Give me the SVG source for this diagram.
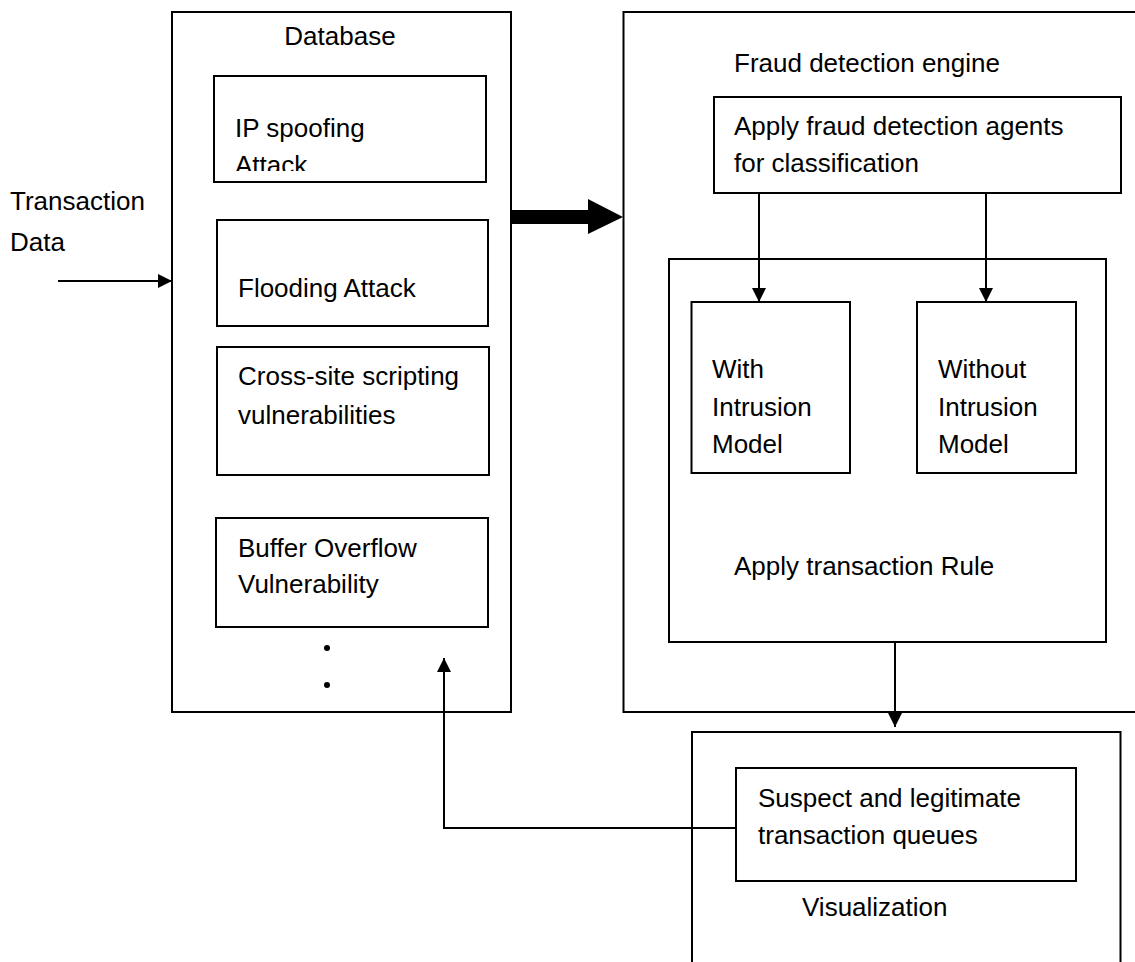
<svg xmlns="http://www.w3.org/2000/svg" width="1135" height="962" viewBox="0 0 1135 962">
<style>
  .box{fill:none;stroke:#000;stroke-width:2}
  .t{font-family:"Liberation Sans",Arial,sans-serif;font-size:26px;fill:#000}
  .ln{fill:none;stroke:#000;stroke-width:2}
</style>
<defs>
  <marker id="ah" markerUnits="userSpaceOnUse" markerWidth="14" markerHeight="14" refX="14" refY="7" orient="auto">
    <path d="M0,0 L14,7 L0,14 Z" fill="#000"/>
  </marker>
  <clipPath id="ipclip"><rect x="214" y="76" width="272" height="95"/></clipPath>
</defs>
<rect width="1135" height="962" fill="#fff"/>

<g id="transaction-data">
  <text class="t" x="10" y="210">Transaction</text>
  <text class="t" x="10" y="251">Data</text>
</g>

<g id="database">
  <rect class="box" x="172" y="12" width="339" height="700"/>
  <text class="t" x="340" y="45" text-anchor="middle">Database</text>
  <circle cx="327" cy="648" r="3" fill="#000"/>
  <circle cx="327" cy="685" r="3" fill="#000"/>
</g>
<g id="ip-spoofing">
  <rect class="box" x="214" y="76" width="272" height="106"/>
  <g clip-path="url(#ipclip)">
    <text class="t" x="235" y="137">IP spoofing</text>
    <text class="t" x="235" y="174">Attack</text>
  </g>
</g>
<g id="flooding">
  <rect class="box" x="217" y="220" width="271" height="106"/>
  <text class="t" x="238" y="297">Flooding Attack</text>
</g>
<g id="xss">
  <rect class="box" x="217" y="347" width="272" height="128"/>
  <text class="t" x="238" y="385">Cross-site scripting</text>
  <text class="t" x="238" y="424">vulnerabilities</text>
</g>
<g id="buffer">
  <rect class="box" x="216" y="518" width="272" height="109"/>
  <text class="t" x="238" y="557">Buffer Overflow</text>
  <text class="t" x="238" y="593">Vulnerability</text>
</g>

<g id="engine">
  <path class="box" d="M1136,12 H623.5 V712 H1136"/>
  <text class="t" x="734" y="72">Fraud detection engine</text>
</g>
<g id="agents">
  <rect class="box" x="714" y="97" width="407" height="96"/>
  <text class="t" x="734" y="135">Apply fraud detection agents</text>
  <text class="t" x="734" y="172">for classification</text>
</g>
<g id="rule">
  <rect class="box" x="669" y="259" width="437" height="383"/>
  <text class="t" x="734" y="575">Apply transaction Rule</text>
</g>
<g id="with-model">
  <rect class="box" x="691.5" y="302" width="158.5" height="171"/>
  <text class="t" x="712" y="378">With</text>
  <text class="t" x="712" y="416">Intrusion</text>
  <text class="t" x="712" y="453">Model</text>
</g>
<g id="without-model">
  <rect class="box" x="917" y="302" width="159" height="171"/>
  <text class="t" x="938" y="378">Without</text>
  <text class="t" x="938" y="416">Intrusion</text>
  <text class="t" x="938" y="453">Model</text>
</g>

<g id="visualization">
  <path class="box" d="M692,963 V732 H1120.5 V963"/>
  <text class="t" x="802" y="916">Visualization</text>
</g>
<g id="queues">
  <rect class="box" x="736" y="768" width="340" height="113"/>
  <text class="t" x="758" y="807">Suspect and legitimate</text>
  <text class="t" x="758" y="844">transaction queues</text>
</g>

<g id="connectors">
  <line class="ln" x1="58" y1="281" x2="172" y2="281" marker-end="url(#ah)"/>
  <path d="M511,210 H588 V199 L623,217 L588,234 V224 H511 Z" fill="#000"/>
  <line class="ln" x1="759" y1="193" x2="759" y2="302" marker-end="url(#ah)"/>
  <line class="ln" x1="986" y1="193" x2="986" y2="302" marker-end="url(#ah)"/>
  <line class="ln" x1="895" y1="642" x2="895" y2="727" marker-end="url(#ah)"/>
  <path class="ln" d="M736,828 H444 V658" marker-end="url(#ah)"/>
</g>
</svg>
